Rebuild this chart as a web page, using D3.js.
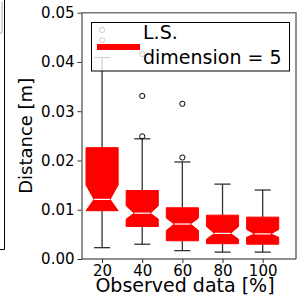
<!DOCTYPE html>
<html>
<head>
<meta charset="utf-8">
<script src="https://cdn.jsdelivr.net/npm/d3@7"></script>
<style>
  body { margin: 0; background: white; }
  text { font-family: "DejaVu Sans", sans-serif; }
</style>
</head>
<body>
<script>
// observed data share (%) on the x axis
const xLabels = [20, 40, 60, 80, 100];
// box statistics in metres
const whiskLo = [0.0023, 0.0030, 0.0017, 0.0014, 0.0014];
const q1      = [0.0098, 0.0066, 0.0037, 0.0031, 0.0030];
const notchLo = [0.0098, 0.0081, 0.0058, 0.0040, 0.0044];
const median  = [0.0121, 0.0093, 0.0071, 0.0052, 0.0051];
const notchHi = [0.0150, 0.0108, 0.0083, 0.0066, 0.0060];
const q3      = [0.0226, 0.0139, 0.0104, 0.0089, 0.0085];
const whiskHi = [0.0409, 0.0244, 0.0197, 0.0152, 0.0140];
const fliers  = [[0.0444, 0.0465], [0.0249, 0.0331, 0.0416], [0.0206, 0.0315], [], []];
const yTicks = [0, 0.01, 0.02, 0.03, 0.04, 0.05];

function main(){
    let svg = d3.select("body")
        .append('svg')
        .attr('width', 300)
        .attr('height', 303)

    const left = 82, right = 296, top = 12.7, bottom = 259

    let x = d3.scaleLinear()
        .domain([0.5, 5.83])
        .range([left, right])
    let y = d3.scaleLinear()
        .domain([0, 0.05])
        .range([bottom, top])

    // piece of the neighbouring subplot on the left
    svg.append('path')
        .attr('d', 'M4.5,0 V249.5 H0')
        .attr('fill', 'none')
        .attr('stroke', '#000')
        .attr('stroke-width', 1)
    svg.append('path')
        .attr('d', 'M2,2 V33 H0')
        .attr('fill', 'none')
        .attr('stroke', '#aaa')
        .attr('stroke-width', 1)

    let yAxis = svg.append('g')
        .attr('transform', `translate(${left},0)`)
        .call(d3.axisLeft(y).tickValues(yTicks).tickSize(4.5).tickPadding(3)
            .tickFormat(d3.format('.2f')))
    yAxis.select('.domain').remove()
    yAxis.selectAll('text').attr('font-size', '15px').attr('fill', '#000')
        .attr('font-family', 'DejaVu Sans')
    yAxis.selectAll('line').attr('stroke', '#333')

    let xAxis = svg.append('g')
        .attr('transform', `translate(0,${bottom})`)
        .call(d3.axisBottom(x).tickValues([1, 2, 3, 4, 5]).tickSize(4).tickPadding(2)
            .tickFormat((d, i) => xLabels[i]))
    xAxis.select('.domain').remove()
    xAxis.selectAll('text').attr('font-size', '15px').attr('fill', '#000')
        .attr('font-family', 'DejaVu Sans')
    xAxis.selectAll('line').attr('stroke', '#333')

    const bw = 32 / 40  // box width in data units
    let boxes = svg.append('g')
    xLabels.forEach((lab, i) => {
        let p = i + 1
        let l = x(p - bw / 2), r = x(p + bw / 2)
        let il = x(p - bw / 4), ir = x(p + bw / 4)
        let c = x(p)
        let capL = x(p - bw / 4), capR = x(p + bw / 4)

        // whiskers and caps
        boxes.append('line').attr('x1', c).attr('x2', c)
            .attr('y1', y(q1[i])).attr('y2', y(whiskLo[i]))
            .attr('stroke', '#333').attr('stroke-width', 1.3)
        boxes.append('line').attr('x1', c).attr('x2', c)
            .attr('y1', y(q3[i])).attr('y2', y(whiskHi[i]))
            .attr('stroke', '#333').attr('stroke-width', 1.3)
        boxes.append('line').attr('x1', capL).attr('x2', capR)
            .attr('y1', y(whiskLo[i])).attr('y2', y(whiskLo[i]))
            .attr('stroke', '#333').attr('stroke-width', 1.3)
        boxes.append('line').attr('x1', capL).attr('x2', capR)
            .attr('y1', y(whiskHi[i])).attr('y2', y(whiskHi[i]))
            .attr('stroke', '#333').attr('stroke-width', 1.3)

        // notched box
        let pts = [
            [l, y(q1[i])], [r, y(q1[i])], [r, y(notchLo[i])], [ir, y(median[i])],
            [r, y(notchHi[i])], [r, y(q3[i])], [l, y(q3[i])], [l, y(notchHi[i])],
            [il, y(median[i])], [l, y(notchLo[i])]
        ]
        boxes.append('path')
            .attr('d', d3.line()(pts) + 'Z')
            .attr('fill', 'red')
            .attr('stroke', 'red')
            .attr('stroke-width', 1)
        boxes.append('line').attr('x1', il).attr('x2', ir)
            .attr('y1', y(median[i])).attr('y2', y(median[i]))
            .attr('stroke', 'white').attr('stroke-width', 1.2)

        boxes.selectAll(null)
            .data(fliers[i])
            .enter()
            .append('circle')
            .attr('cx', c)
            .attr('cy', d => y(d))
            .attr('r', 2.6)
            .attr('fill', 'none')
            .attr('stroke', '#000')
            .attr('stroke-width', 1)
    })

    // spines
    svg.append('path')
        .attr('d', `M${left},${bottom} V${top} H${right} V${bottom}`)
        .attr('fill', 'none')
        .attr('stroke', '#777')
        .attr('stroke-width', 1.6)
    svg.append('line')
        .attr('x1', left).attr('x2', right)
        .attr('y1', bottom).attr('y2', bottom)
        .attr('stroke', '#222')
        .attr('stroke-width', 1.2)

    // legend
    svg.append('rect')
        .attr('x', 91.5).attr('y', 22.5)
        .attr('width', 198).attr('height', 48.5)
        .attr('fill', 'white').attr('fill-opacity', 0.8)
        .attr('stroke', '#000').attr('stroke-width', 1)
    svg.append('rect')
        .attr('x', 97).attr('y', 44)
        .attr('width', 43).attr('height', 6)
        .attr('fill', 'red')
    svg.append('text')
        .attr('x', 143).attr('y', 39)
        .attr('font-size', '19px')
        .text('L.S.')
    svg.append('text')
        .attr('x', 143).attr('y', 63.5)
        .attr('font-size', '19px')
        .text('dimension = 5')

    // axis titles
    svg.append('text')
        .attr('x', (left + right) / 2 - 4)
        .attr('y', 292)
        .attr('text-anchor', 'middle')
        .attr('font-size', '19px')
        .text('Observed data [%]')
    svg.append('text')
        .attr('transform', `translate(32,${(top + bottom) / 2}) rotate(-90)`)
        .attr('text-anchor', 'middle')
        .attr('font-size', '18px')
        .text('Distance [m]')
}

main()
</script>
</body>
</html>
